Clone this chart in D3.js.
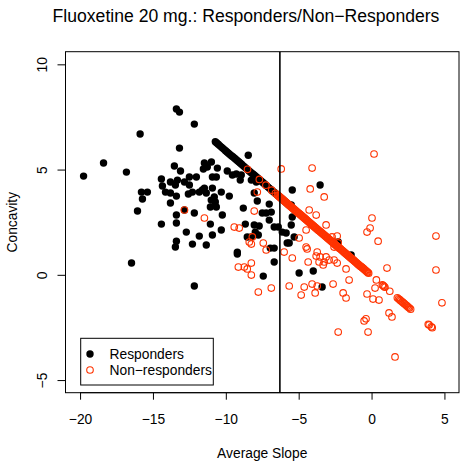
<!DOCTYPE html>
<html><head><meta charset="utf-8">
<script src="https://cdn.jsdelivr.net/npm/d3@7"></script>
<style>body{margin:0;background:#fff}svg{display:block;font-family:"Liberation Sans",Arial,Helvetica,sans-serif}</style>
</head><body><svg id="c" width="460" height="462"></svg>
<script>
const title = "Fluoxetine 20 mg.: Responders/Non\u2212Responders";
const xLabel = "Average Slope";
const yLabel = "Concavity";
const xTicks = [-20, -15, -10, -5, 0, 5];
const yTicks = [-5, 0, 5, 10];
const legendLabels = ["Responders", "Non\u2212responders"];
const cutoff = -6.29;

// Responders (scattered)
const respX = [-13.39,-13.18,-15.88,-13.18,-18.39,-16.82,-19.76,-13.53,-14.42,-13.11,-13.8,-13.46,-13.32,-14.35,-15.79,-15.38,-14.14,-13.8,-13.39,-12.57,-15.72,-13.8,-16.06,-12.84,-13.39,-14.42,-13.39,-12.71,-13.39,-13.46,-12.29,-16.47,-12.16,
 -12.16,-8.46,-11.47,-10.99,-11.27,-11.54,-12.02,-12.5,-12.84,-10.58,-10.65,-10.92,-9.9,-9.55,-9.28,-8.94,-9.01,-8.25,-7.91,-11.61,-11.47,-11.34,-11.82,-12.5,-12.29,-10.92,-10.79,-11.0,-10.72,-11.06,-10.65,-10.31,-9.76,-10.24,-12.16,-11.82,-10.92,-11.06,-10.31,-11.34,
 -8.05,-7.84,-8.8,-7.02,-6.88,-7.5,-7.23,-8.66,-8.05,-7.71,-7.02,-6.4,-6.68,-6.13,-5.86,-7.98,-7.77,-8.53,-8.25,-5.79,-9.21,-9.21,-6.95,-6.68,-6.68,-7.43,-5.44,-5.51,-5.44,-5.51,-5.31,-5.65,-3.53,-4.0,-3.39,-4.97,-2.29,-1.4];
const respY = [7.88,7.73,6.69,6.02,5.31,4.88,4.69,5.17,4.55,4.93,4.41,4.27,4.5,4.22,3.93,3.93,3.93,3.89,3.74,3.84,3.6,3.41,3.03,3.08,2.84,2.41,2.46,2.03,1.6,1.32,1.46,0.56,-0.53,
 7.16,5.68,5.31,5.36,5.12,5.03,4.65,4.65,4.41,5.07,4.65,4.65,4.93,4.74,4.79,4.74,4.5,4.5,4.41,4.03,4.12,3.89,3.93,4.27,3.93,4.12,3.7,3.55,3.46,3.22,3.22,3.93,3.74,2.84,2.94,1.84,1.89,2.41,2.13,1.42,
 3.89,3.51,3.17,3.36,2.98,2.94,2.94,2.41,2.37,2.32,2.6,2.27,2.27,2.03,1.99,2.03,1.89,1.8,1.8,1.51,1.08,0.99,1.27,1.27,0.61,-0.06,4.03,3.32,2.75,2.37,1.8,1.51,4.27,0.18,-0.58,0.09,1.56,0.94];
// Responders lying on the diagonal band
const respBandX = [-10.72,-10.62,-10.52,-10.42,-10.32,-10.22,-10.12,-10.02,-9.92,-9.82,-9.72,-9.62,-9.52,-9.42,-9.32,-9.22,-9.12,-9.02,-8.92,-8.82,-8.72,-8.62,-8.52,-8.42,-8.32,-8.22,-8.12,-8.02,-7.92,-7.82,-7.72,-7.62,-7.52,-7.42,-7.32,-7.22,-7.12,-7.02,-6.92,-6.82,-6.72,-6.62,-6.52,-6.42,-6.32,-6.22,-6.12,-6.02,-5.92,-5.82,-5.72,-5.62];
const respBandY = [6.32,6.26,6.20,6.14,6.08,6.02,5.96,5.90,5.84,5.78,5.72,5.66,5.61,5.55,5.49,5.43,5.37,5.31,5.25,5.19,5.13,5.07,5.01,4.95,4.89,4.83,4.78,4.72,4.66,4.60,4.54,4.48,4.42,4.36,4.30,4.24,4.18,4.12,4.06,4.00,3.94,3.89,3.83,3.77,3.71,3.65,3.59,3.53,3.47,3.41,3.35,3.29];

// Non-responders (scattered)
const nonX = [-12.84,-11.47,-9.42,-9.08,-7.84,-8.05,-8.18,-8.39,-7.43,-8.25,-7.23,-6.0,-5.44,-9.14,-8.73,-8.53,-8.25,-8.25,-7.77,-6.88,-5.65,-6.2,-4.08,-4.21,0.17,-3.25,-4.28,-3.8,-4.49,-3.12,
 -4.97,-4.49,-4.42,-3.73,-3.8,-3.53,-4.35,-3.6,-3.25,-3.12,-2.91,-2.57,-2.36,-2.71,-2.36,-2.57,-3.32,-1.75,-1.54,-4.62,-4.08,-3.73,-4.83,-3.87,-2.64,-1.95,-1.75,
 0.03,-0.1,-0.31,0.45,1.06,0.24,-0.31,0.1,0.51,1.2,1.4,-0.51,-0.38,-2.29,-0.24,1.61,4.42,4.42,4.83,-2.29];
const nonY = [3.08,2.7,2.27,2.22,3.93,3.03,1.8,1.56,1.51,1.46,1.18,1.08,0.8,0.37,0.37,0.28,0.56,-0.01,-0.82,-0.63,-0.53,5.03,5.07,4.08,5.74,3.7,3.08,2.84,2.13,2.37,
 1.75,1.32,1.23,1.08,0.89,0.85,0.61,0.61,0.61,0.85,0.7,0.7,0.56,1.8,1.84,1.32,0.47,0.28,-0.25,-0.58,-0.44,-0.53,-0.96,-0.86,-0.44,-0.86,-1.1,
 2.7,2.22,2.03,1.6,0.32,-0.63,-0.91,-1.15,-1.2,-1.81,-2.0,-2.19,-2.09,-2.72,-2.72,-3.9,1.84,0.23,-1.33,1.51];
// Non-responders lying on the diagonal band
const nonBandX = [-8.51,-7.7,-7.25,-6.85,-6.6,
 -6.45,-6.40,-6.35,-6.30,-6.25,-6.20,-6.15,-6.10,-6.05,-6.00,-5.95,-5.90,-5.85,-5.80,-5.75,-5.70,-5.65,-5.60,-5.55,-5.50,-5.45,-5.40,-5.35,-5.30,-5.25,-5.20,-5.15,-5.10,-5.05,-5.00,
 -4.95,-4.90,-4.85,-4.80,-4.75,-4.70,-4.65,-4.60,-4.55,-4.50,-4.45,-4.40,-4.35,-4.30,-4.25,-4.20,-4.15,-4.10,-4.05,-4.00,-3.95,-3.90,-3.85,-3.80,-3.75,-3.70,-3.65,-3.60,-3.55,-3.50,
 -3.45,-3.40,-3.35,-3.30,-3.25,-3.20,-3.15,-3.10,-3.05,-3.00,-2.95,-2.90,-2.85,-2.80,-2.75,-2.70,-2.65,-2.60,-2.55,-2.50,-2.45,-2.40,-2.35,-2.30,-2.25,-2.20,-2.15,-2.10,-2.05,-2.00,
 -1.95,-1.90,-1.85,-1.80,-1.75,-1.70,-1.65,-1.60,-1.55,-1.50,-1.45,-1.40,-1.35,-1.30,-1.25,-1.20,-1.15,-1.10,-1.05,-1.00,-0.95,-0.90,-0.85,-0.80,-0.75,-0.70,-0.65,-0.60,-0.55,-0.50,
 -0.45,-0.40,-0.35,-0.30,-0.25,-0.20,
 0.33,0.74,0.80,0.86,0.92,1.25,1.77,1.85,1.93,2.00,2.08,2.15,2.23,2.30,2.38,2.45,2.53,2.60,2.68,3.89,3.95,4.10,4.16];
const nonBandY = [5.01,4.53,4.26,4.02,3.87,
 3.79,3.76,3.73,3.70,3.67,3.64,3.61,3.58,3.55,3.52,3.49,3.46,3.43,3.40,3.37,3.34,3.31,3.28,3.25,3.22,3.19,3.16,3.13,3.10,3.07,3.04,3.01,2.98,2.95,2.93,
 2.90,2.87,2.84,2.81,2.78,2.75,2.72,2.69,2.66,2.63,2.60,2.57,2.54,2.51,2.48,2.45,2.42,2.39,2.36,2.33,2.30,2.27,2.24,2.21,2.18,2.15,2.12,2.09,2.07,2.04,
 2.01,1.98,1.95,1.92,1.89,1.86,1.83,1.80,1.77,1.74,1.71,1.68,1.65,1.62,1.59,1.56,1.53,1.50,1.47,1.44,1.41,1.38,1.35,1.32,1.29,1.26,1.24,1.21,1.18,1.15,
 1.12,1.09,1.06,1.03,1.00,0.97,0.94,0.91,0.88,0.85,0.82,0.79,0.76,0.73,0.70,0.67,0.64,0.61,0.58,0.55,0.52,0.49,0.46,0.43,0.40,0.38,0.35,0.32,0.29,0.26,
 0.23,0.20,0.17,0.14,0.11,0.08,
 -0.24,-0.48,-0.51,-0.55,-0.59,-0.78,-1.09,-1.14,-1.18,-1.23,-1.27,-1.31,-1.36,-1.40,-1.45,-1.49,-1.54,-1.58,-1.63,-2.35,-2.38,-2.47,-2.51];

const RED = "#ff3300";
const svg = d3.select("#c");
const L = 65.5, R = 459, T = 51.7, B = 392.7;
const x = d3.scaleLinear().domain([-21, 6]).range([L, R]);
const y = d3.scaleLinear().domain([-5.6, 10.6]).range([B, T]);

const resp = respX.map((v,i)=>[v, respY[i]]).concat(respBandX.map((v,i)=>[v, respBandY[i]]));
const non = nonX.map((v,i)=>[v, nonY[i]]).concat(nonBandX.map((v,i)=>[v, nonBandY[i]]));

// title
svg.append("text").attr("x", 246).attr("y", 22).attr("text-anchor","middle")
  .attr("font-size", 17.6).text(title);

// axes
const fmt = d => d3.format("d")(d).replace("-", "\u2212");
const gx = svg.append("g").attr("transform", `translate(0,${B})`)
  .call(d3.axisBottom(x).tickValues(xTicks).tickSize(7).tickSizeOuter(0).tickPadding(15).tickFormat(fmt));
gx.select(".domain").remove();
gx.selectAll("text").attr("font-size", 13.8).attr("font-family", null).attr("fill","#000");
gx.selectAll("line").attr("stroke","#000");

const gy = svg.append("g").attr("transform", `translate(${L},0)`)
  .call(d3.axisLeft(y).tickValues(yTicks).tickSize(8).tickSizeOuter(0).tickFormat(fmt));
gy.select(".domain").remove();
gy.selectAll("line").attr("stroke","#000");
gy.selectAll("text").attr("font-size", 13.8).attr("font-family", null).attr("fill","#000")
  .attr("x", null).attr("dy", null).attr("text-anchor","middle")
  .attr("transform", "translate(-19,0) rotate(-90)");
svg.append("line").attr("x1", x(xTicks[0])).attr("x2", x(xTicks[xTicks.length-1])).attr("y1", B).attr("y2", B).attr("stroke","#000");
svg.append("line").attr("x1", L).attr("x2", L).attr("y1", y(yTicks[0])).attr("y2", y(yTicks[yTicks.length-1])).attr("stroke","#000");

svg.append("text").attr("x", (L+R)/2).attr("y", 458).attr("text-anchor","middle").attr("font-size", 13.8).text(xLabel);
svg.append("text").attr("transform", `translate(17,${(T+B)/2}) rotate(-90)`).attr("text-anchor","middle").attr("font-size", 13.8).text(yLabel);

// points
const pg = svg.append("g");
pg.selectAll("circle.r").data(resp).join("circle").attr("class","r")
  .attr("cx", d=>x(d[0])).attr("cy", d=>y(d[1])).attr("r", 3.7).attr("fill","#000");
pg.selectAll("circle.n").data(non).join("circle").attr("class","n")
  .attr("cx", d=>x(d[0])).attr("cy", d=>y(d[1])).attr("r", 3.3).attr("fill","none").attr("stroke",RED).attr("stroke-width",1.1);

// cutoff line
svg.append("line").attr("x1", x(cutoff)).attr("x2", x(cutoff)).attr("y1", T).attr("y2", B).attr("stroke","#000").attr("stroke-width",1.6);

// box
svg.append("rect").attr("x", L).attr("y", T).attr("width", R-L).attr("height", B-T).attr("fill","none").attr("stroke","#000");

// legend
const lg = svg.append("g");
lg.append("rect").attr("x", 80.7).attr("y", 338.3).attr("width", 132.6).attr("height", 46.7).attr("fill","#fff").attr("stroke","#000");
lg.append("circle").attr("cx", 90).attr("cy", 354).attr("r", 3.7).attr("fill","#000");
lg.append("circle").attr("cx", 90).attr("cy", 370).attr("r", 3.3).attr("fill","none").attr("stroke",RED).attr("stroke-width",1.1);
lg.append("text").attr("x", 109.5).attr("y", 359).attr("font-size", 13.8).text(legendLabels[0]);
lg.append("text").attr("x", 109.5).attr("y", 375).attr("font-size", 13.8).text(legendLabels[1]);
</script></body></html>
